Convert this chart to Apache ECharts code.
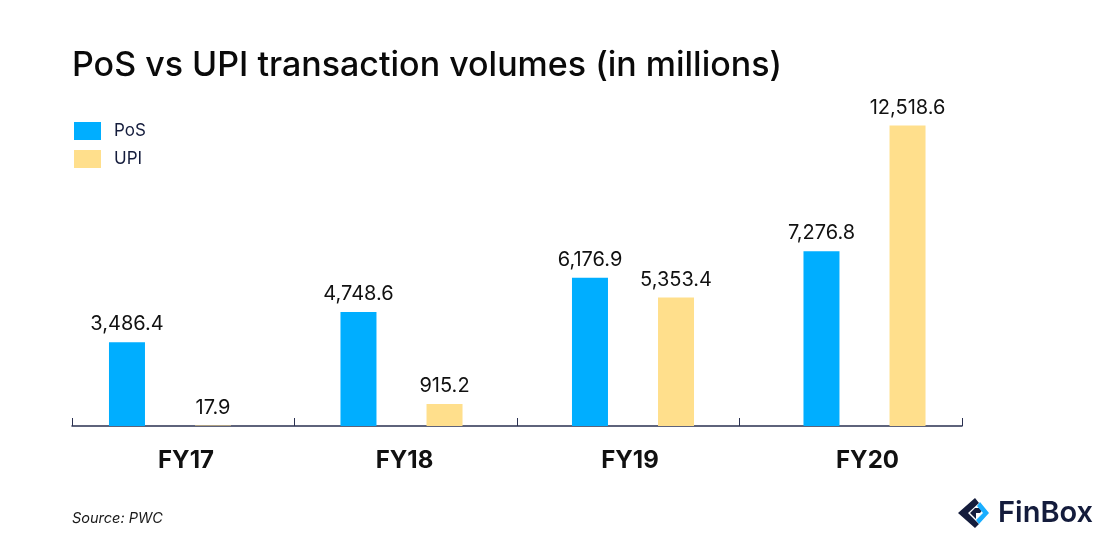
<!DOCTYPE html>
<html>
<head>
<meta charset="utf-8">
<style>html,body{margin:0;background:#fff}#chart{width:1120px;height:552px}</style>
<script src="https://cdn.jsdelivr.net/npm/echarts@6/dist/echarts.min.js"></script>
</head>
<body>
<div id="chart"></div>
<script>
var years = ['FY17', 'FY18', 'FY19', 'FY20']
var pos = [3486.4, 4748.6, 6176.9, 7276.8]
var upi = [17.9, 915.2, 5353.4, 12518.6]
var font = 'Inter'
var navy = '#141c3c'

function valueLabel(p) {
  return p.value.toLocaleString('en-US', { minimumFractionDigits: 1 })
}

var myChart = echarts.init(document.getElementById('chart'), null, { renderer: 'canvas' })
var option = {
  backgroundColor: '#fff',
  animation: false,
  title: [{
    text: 'PoS vs UPI transaction volumes (in millions)',
    left: 72,
    top: 49,
    padding: 0,
    textStyle: { fontFamily: font, fontSize: 34, fontWeight: 500, color: '#0a0a0a' }
  }, {
    text: 'Source: PWC',
    left: 72,
    top: 511,
    padding: 0,
    textStyle: { fontFamily: font, fontSize: 14.5, fontStyle: 'italic', fontWeight: 400, color: '#1a1a1a' }
  }],
  legend: {
    orient: 'vertical',
    left: 74,
    top: 122,
    padding: 0,
    itemWidth: 27,
    itemHeight: 18,
    itemGap: 10,
    icon: 'rect',
    textStyle: { fontFamily: font, fontSize: 17, color: navy, padding: [2, 0, 0, 8] },
    data: ['PoS', 'UPI']
  },
  // bars sit on their own grid, the ticks on the axis are spaced a bit tighter
  grid: [
    { left: 54.25, width: 926, top: 90, height: 336 },
    { left: 72, width: 890, top: 90, height: 336 }
  ],
  xAxis: [{
    type: 'category',
    gridIndex: 0,
    data: [
      { value: years[0], textStyle: { padding: [0, 0, 0, 32] } },
      { value: years[1], textStyle: { padding: [0, 0, 0, 6] } },
      { value: years[2], textStyle: { padding: [0, 6, 0, 0] } },
      { value: years[3], textStyle: { padding: [0, 0, 0, 6] } }
    ],
    axisLine: { show: false },
    axisTick: { show: false },
    axisLabel: { margin: 23, fontFamily: font, fontSize: 24, fontWeight: 700, color: '#111' }
  }, {
    type: 'category',
    gridIndex: 1,
    data: years,
    axisLine: { show: true, lineStyle: { color: '#2a3050', width: 1.5 } },
    axisTick: { show: true, interval: 0, inside: true, length: 8, lineStyle: { color: '#2a3050', width: 1 } },
    axisLabel: { show: false }
  }],
  yAxis: [
    { type: 'value', gridIndex: 0, min: 0, max: 14000, show: false },
    { type: 'value', gridIndex: 1, min: 0, max: 14000, show: false }
  ],
  series: [{
    name: 'PoS',
    type: 'bar',
    data: pos,
    barWidth: 36,
    barGap: '139%',
    itemStyle: { color: '#00aeff' },
    label: { show: true, position: 'top', distance: 8, formatter: valueLabel, fontFamily: font, fontSize: 20, color: '#111' }
  }, {
    name: 'UPI',
    type: 'bar',
    data: upi,
    barWidth: 36,
    itemStyle: { color: '#ffdf8c' },
    label: { show: true, position: 'top', distance: 8, formatter: valueLabel, fontFamily: font, fontSize: 20, color: '#111' }
  }],
  graphic: [
    // FinBox logo
    { type: 'polygon', shape: { points: [[975, 498], [979, 503], [968, 513], [979, 524], [975, 528], [958, 513]] }, style: { fill: navy } },
    { type: 'polygon', shape: { points: [[970, 513], [975, 508], [984, 508], [980, 513], [976, 513], [976, 519], [973, 516]] }, style: { fill: navy } },
    { type: 'polygon', shape: { points: [[980, 502], [989, 513], [979, 524], [976, 520], [983, 513], [977, 506]] }, style: { fill: '#1aaeff' } },
    { type: 'text', left: 998, top: 499, style: { text: 'FinBox', fontFamily: font, fontSize: 29, fontWeight: 600, fill: navy } }
  ]
}
myChart.setOption(option)
</script>
</body>
</html>
